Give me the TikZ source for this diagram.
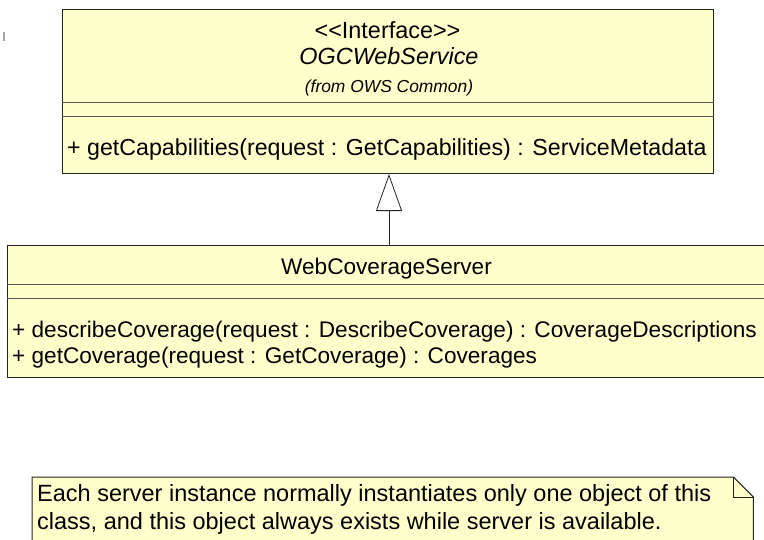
\documentclass[tikz,border=0pt]{standalone}
\usepackage{fontspec}
\setmainfont{Liberation Sans}
\usetikzlibrary{arrows.meta}
\definecolor{umlfill}{HTML}{FFFFCC}
\definecolor{umlline}{HTML}{222222}
\definecolor{umldiv}{HTML}{555555}
\tikzset{
  classbox/.style={draw=umlline, fill=umlfill, line width=1pt, rectangle, inner sep=0pt, anchor=north west},
  divider/.style={draw=umldiv, line width=1pt},
  txt/.style={inner sep=0pt, font=\fontsize{23.4}{28}\selectfont, text=black},
  btxt/.style={inner sep=0pt, font=\fontsize{22.6}{27}\selectfont, text=black},
  smalltxt/.style={inner sep=0pt, font=\fontsize{17.4}{20}\selectfont\itshape, text=black},
  realize/.style={draw=umlline, line width=0.8pt, -{Triangle[open, width=26pt, length=37pt, line width=0.8pt]}},
}
\begin{document}
\begin{tikzpicture}[x=1pt,y=-1pt]
\useasboundingbox (0,0) rectangle (764,539);
\clip (0,0) rectangle (764,539);
\fill[white] (0,0) rectangle (764,539);
% stray mark
\draw[gray!70, line width=1.4pt] (4,32) -- (4,41);
% interface box
\node[classbox, minimum width=651pt, minimum height=164pt] (ogc) at (62,9) {};
\draw[divider] ([yshift=-93pt]ogc.north west) -- ([yshift=-93pt]ogc.north east);
\draw[divider] ([yshift=-107pt]ogc.north west) -- ([yshift=-107pt]ogc.north east);
\node[txt, anchor=base] (ogcst) at (387.5,38) {<{}<Interface>{}>};
\node[txt, anchor=base, font=\fontsize{23.4}{28}\selectfont\itshape] (ogcname) at (389,64) {OGCWebService};
\node[smalltxt, anchor=base] (ogcfrom) at (389,92) {(from OWS Common)};
\node[txt, anchor=base west, font=\fontsize{23.2}{28}\selectfont] (ogcop) at (67,155) {+ getCapabilities(request : GetCapabilities) : ServiceMetadata};
% server box
\node[classbox, minimum width=762pt, minimum height=132pt] (wcs) at (7,245) {};
\draw[divider] ([yshift=-39pt]wcs.north west) -- ([yshift=-39pt]wcs.north east);
\draw[divider] ([yshift=-53pt]wcs.north west) -- ([yshift=-53pt]wcs.north east);
\node[btxt, anchor=base] (wcsname) at (386.5,274) {WebCoverageServer};
\node[btxt, anchor=base west] (wcsop1) at (12,337) {+ describeCoverage(request : DescribeCoverage) : CoverageDescriptions};
\node[btxt, anchor=base west] (wcsop2) at (12,363) {+ getCoverage(request : GetCoverage) : Coverages};
% realization
\draw[realize] (wcs.north -| 389,0) -- (ogc.south -| 389,0);
% note
\node[inner sep=0pt, minimum width=721pt, minimum height=90pt, anchor=north west] (note) at (32,477) {};
\draw[draw=umlline, fill=umlfill, line width=1pt] (note.north west) -- ([xshift=-20pt]note.north east) -- ([yshift=-20pt]note.north east) -- (note.south east) -- (note.south west) -- cycle;
\draw[draw=umlline, line width=1pt] ([xshift=-20pt]note.north east) -- ([xshift=-20pt,yshift=-20pt]note.north east) -- ([yshift=-20pt]note.north east);
\node[txt, anchor=base west, font=\fontsize{23.5}{28}\selectfont] (notel1) at (37,501) {Each server instance normally instantiates only one object of this};
\node[txt, anchor=base west, font=\fontsize{23.5}{28}\selectfont] (notel2) at (37,529) {class, and this object always exists while server is available.};
\end{tikzpicture}
\end{document}
